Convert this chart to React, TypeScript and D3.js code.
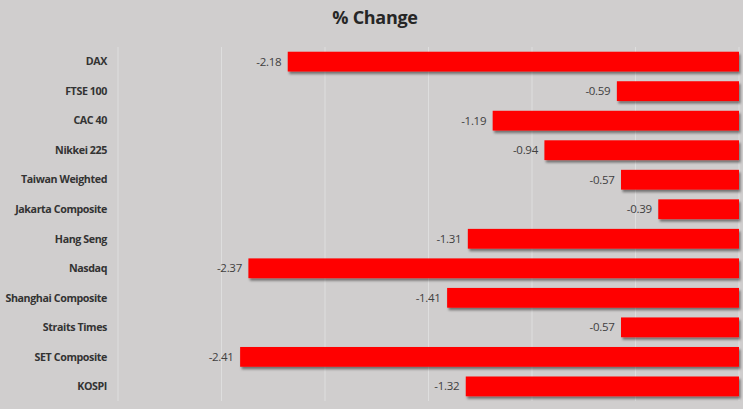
import React from "react";
import * as d3 from "d3";

const categories = ["DAX", "FTSE 100", "CAC 40", "Nikkei 225", "Taiwan Weighted", "Jakarta Composite", "Hang Seng", "Nasdaq", "Shanghai Composite", "Straits Times", "SET Composite", "KOSPI"];
const values = [-2.18, -0.59, -1.19, -0.94, -0.57, -0.39, -1.31, -2.37, -1.41, -0.57, -2.41, -1.32];
const xTicks = [-3, -2.5, -2, -1.5, -1, -0.5, 0];
const title = "% Change";

export default function App() {
  const W = 743, H = 409;
  const left = 118, right = 739, top = 47, bottom = 401;
  const x = d3.scaleLinear().domain([-3, 0]).range([left, right]);
  const y = d3.scaleBand<string>().domain(categories).range([top, bottom]).paddingInner(0.33).paddingOuter(0.16);
  const font = "'Open Sans', 'Noto Sans', sans-serif";
  return (
    <svg width={W} height={H} style={{ position: "absolute", left: 0, top: 0, display: "block" }}>
      <defs>
        <filter id="sh" x="-5%" y="-30%" width="110%" height="180%">
          <feDropShadow dx="1.5" dy="2.5" stdDeviation="1.3" floodColor="#000" floodOpacity="0.45" />
        </filter>
      </defs>
      <rect x={0} y={0} width={W} height={H} fill="#d0cece" />
      <text x={375} y={24} textAnchor="middle" fontFamily={font} fontWeight="bold" fontSize={18} fill="#262626" letterSpacing={-0.3}>{title}</text>
      {xTicks.map((t) => (
        <line key={t} x1={x(t)} x2={x(t)} y1={top} y2={bottom} stroke="#dedede" strokeWidth={1} />
      ))}
      {categories.map((c, i) => {
        const v = values[i];
        const yy = y(c)!;
        const bh = y.bandwidth();
        return (
          <g key={c}>
            <text x={107} y={yy + bh / 2} dy="0.35em" textAnchor="end" fontFamily={font} fontWeight="bold" fontSize={10.7} fill="#333" letterSpacing={-0.4}>{c}</text>
            <rect x={x(v)} y={yy} width={x(0) - x(v)} height={bh} fill="#ff0000" filter="url(#sh)" />
            <text x={x(v) - 6.5} y={yy + bh / 2} dy="0.35em" textAnchor="end" fontFamily={font} fontSize={11.5} fill="#404040" letterSpacing={-0.3}>{v.toFixed(2)}</text>
          </g>
        );
      })}
    </svg>
  );
}
